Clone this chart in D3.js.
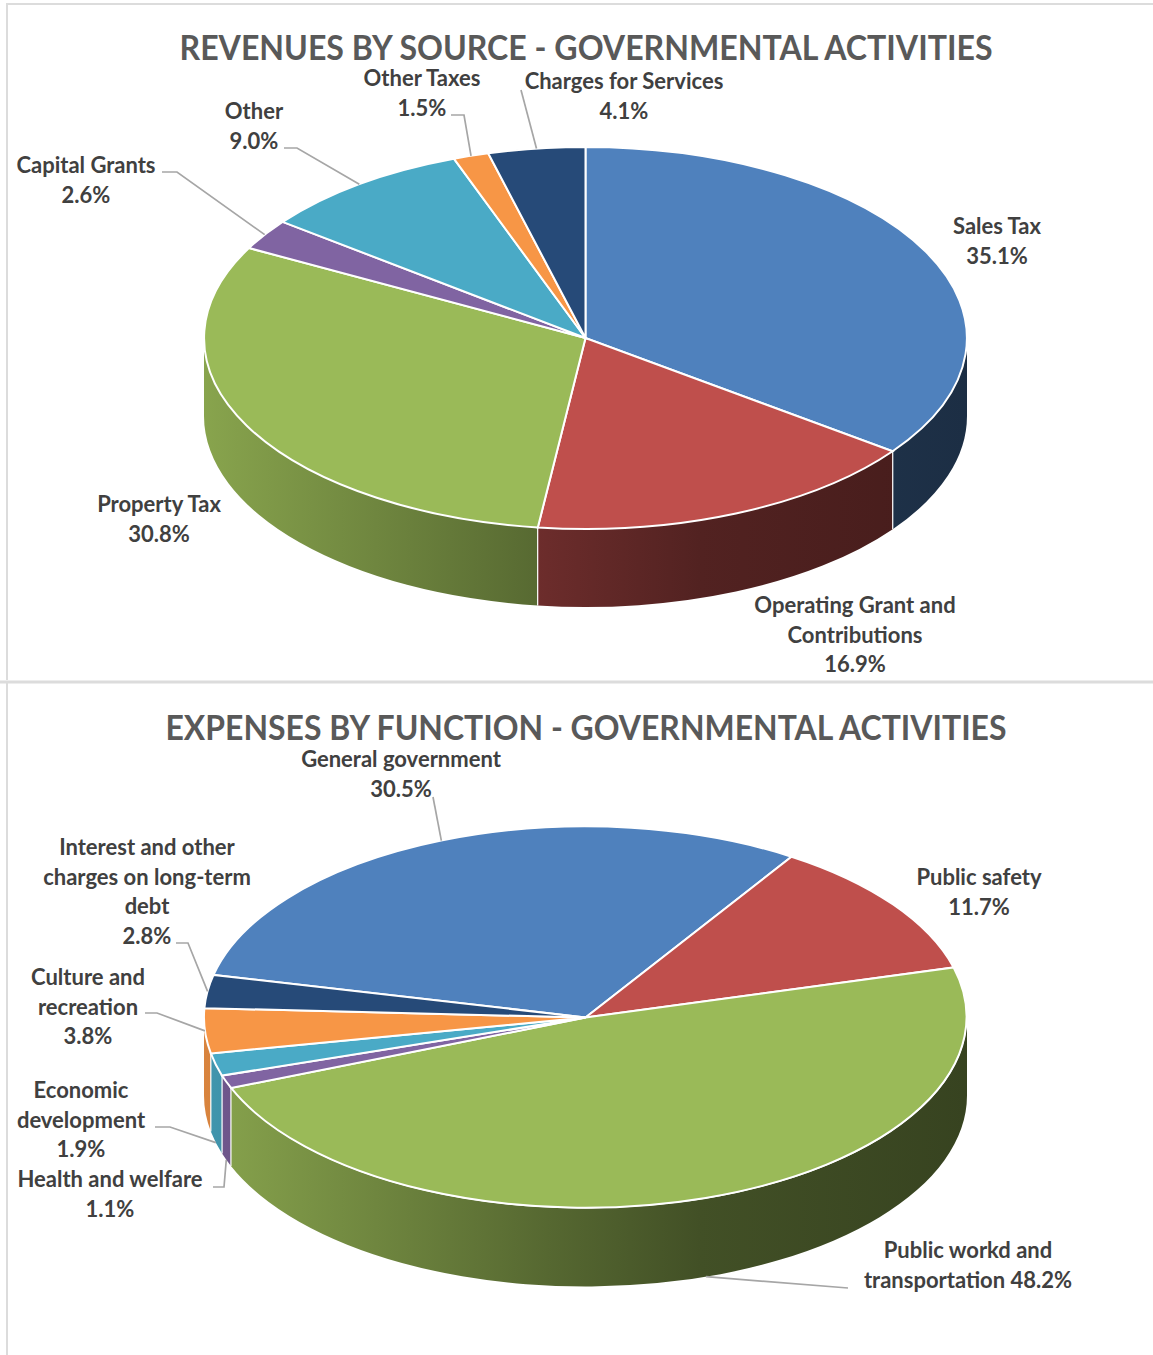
<!DOCTYPE html>
<html>
<head>
<meta charset="utf-8">
<script src="https://cdn.jsdelivr.net/npm/d3@7"></script>
<style>
html, body { margin: 0; padding: 0; background: #fff; }
svg { display: block; }
text { font-family: Lato, "Open Sans", sans-serif; }
</style>
</head>
<body>
<script>
// chart values. "%" in a label line stands for the value
const revenueTitle = "REVENUES BY SOURCE - GOVERNMENTAL ACTIVITIES";
const revenueValues = [35.1, 16.9, 30.8, 2.6, 9.0, 1.5, 4.1];
const revenueLabels = [
    ["Sales Tax", "%"],
    ["Operating Grant and", "Contributions", "%"],
    ["Property Tax", "%"],
    ["Capital Grants", "%"],
    ["Other", "%"],
    ["Other Taxes", "%"],
    ["Charges for Services", "%"]
];

const expenseTitle = "EXPENSES BY FUNCTION - GOVERNMENTAL ACTIVITIES";
const expenseValues = [30.5, 11.7, 48.2, 1.1, 1.9, 3.8, 2.8];
const expenseLabels = [
    ["General government", "%"],
    ["Public safety", "%"],
    ["Public workd and", "transportation %"],
    ["Health and welfare", "%"],
    ["Economic", "development", "%"],
    ["Culture and", "recreation", "%"],
    ["Interest and other", "charges on long-term", "debt", "%"]
];

const sliceColors = ["#4f81bd", "#bf4f4c", "#9aba58", "#8064a2", "#4aaac6", "#f79646", "#264a78"];

// layout of the two panels, separate from the values
const rx = 381.5, ry = 191, depth = 78;
const revenueLayout = {
    cx: 585.5, cy: 338, rotation: 0, titleY: 60, titleWidth: 813,
    text: [[997, 234], [855, 613], [159, 512], [86, 173], [254, 119], [422, 86], [624, 89]],
    leaders: [null, null, null,
        {from: [[162, 172], [177, 172]]},
        {from: [[284, 148], [297, 148]]},
        {from: [[451, 115], [464, 115]]},
        {from: [[521, 90]]}]
};
const expenseLayout = {
    cx: 585.5, cy: 1017.5, rotation: -77.1, titleY: 740, titleWidth: 841,
    text: [[401, 767], [979, 885], [968, 1258], [110, 1187], [81, 1098], [88, 985], [147, 855]],
    leaders: [
        {from: [[433, 797]]},
        null,
        {from: [[848, 1288]], wall: true},
        {from: [[213, 1187], [224, 1187]], wall: true},
        {from: [[155, 1127], [170, 1127]], wall: true},
        {from: [[145, 1013], [157, 1013]]},
        {from: [[176, 943], [188, 943]]}]
};

const svg = d3.select("body").append("svg")
    .attr("width", 1153)
    .attr("height", 1355);

const defs = svg.append("defs");

// panel frames from the screenshot
const frame = svg.append("g").attr("stroke", "#dcdcdc").attr("fill", "none");
frame.append("path").attr("d", "M7,680V4H1153").attr("stroke-width", 2);
frame.append("path").attr("d", "M7,1355V683").attr("stroke-width", 2);
frame.append("path").attr("d", "M0,682H1153").attr("stroke-width", 3);

// wall shading runs dark to the right, one gradient per colour
function addGradient(id, color, cx) {
    const shade = d3.scaleLinear()
        .domain([0, 0.45, 0.65, 1])
        .range([0.88, 0.56, 0.43, 0.36]);
    const c = d3.rgb(color);
    const grad = defs.append("linearGradient")
        .attr("id", id)
        .attr("gradientUnits", "userSpaceOnUse")
        .attr("x1", cx - rx).attr("x2", cx + rx)
        .attr("y1", 0).attr("y2", 0);
    grad.selectAll("stop")
        .data(shade.domain())
        .enter().append("stop")
        .attr("offset", d => d)
        .attr("stop-color", d => d3.rgb(c.r * shade(d), c.g * shade(d), c.b * shade(d)).formatHex());
}
sliceColors.forEach((c, i) => addGradient("wall" + i, c, 585.5));

function drawPie(id, title, values, labels, layout) {
    const g = svg.append("g").attr("id", id);
    const start = layout.rotation * Math.PI / 180;
    const pie = d3.pie().sort(null).startAngle(start).endAngle(start + 2 * Math.PI);
    const arcs = pie(values);
    const arc = d3.arc().innerRadius(0).outerRadius(1);
    const px = a => layout.cx + rx * Math.sin(a);
    const py = a => layout.cy - ry * Math.cos(a);

    // outer wall, only the part facing the viewer
    const front = [Math.PI / 2, 3 * Math.PI / 2];
    arcs.forEach((d, i) => {
        const a0 = Math.max(d.startAngle, front[0]);
        const a1 = Math.min(d.endAngle, front[1]);
        if (a1 <= a0) return;
        const large = a1 - a0 > Math.PI ? 1 : 0;
        g.append("path")
            .attr("fill", `url(#wall${i})`)
            .attr("d", `M${px(a0)},${py(a0)}A${rx},${ry} 0 ${large} 1 ${px(a1)},${py(a1)}` +
                `V${py(a1) + depth}A${rx},${ry} 0 ${large} 0 ${px(a0)},${py(a0) + depth}Z`);
        if (d.startAngle > front[0]) {
            g.append("line")
                .attr("x1", px(a0)).attr("x2", px(a0))
                .attr("y1", py(a0)).attr("y2", py(a0) + depth)
                .attr("stroke", "#fff").attr("stroke-width", 1.2);
        }
    });

    // top face: unit pie squashed to the ellipse
    g.append("g")
        .attr("transform", `translate(${layout.cx},${layout.cy}) scale(${rx},${ry})`)
        .selectAll("path")
        .data(arcs)
        .enter().append("path")
        .attr("d", arc)
        .attr("fill", (d, i) => sliceColors[i])
        .attr("stroke", "#fff")
        .attr("stroke-width", 2)
        .attr("vector-effect", "non-scaling-stroke");

    // leader lines end at the middle of the slice edge
    const lineGen = d3.line();
    arcs.forEach((d, i) => {
        const lead = layout.leaders[i];
        if (!lead) return;
        const mid = (d.startAngle + d.endAngle) / 2;
        const end = [px(mid), py(mid) + (lead.wall ? depth : 0)];
        g.append("path")
            .attr("d", lineGen(lead.from.concat([end])))
            .attr("fill", "none")
            .attr("stroke", "#a6a6a6")
            .attr("stroke-width", 1.7);
    });

    // Lato runs wider than the original face, so the title is squeezed to its width
    g.append("text")
        .attr("x", 586)
        .attr("y", layout.titleY)
        .attr("text-anchor", "middle")
        .attr("font-size", 35)
        .attr("font-weight", 700)
        .attr("fill", "#595959")
        .attr("textLength", layout.titleWidth)
        .attr("lengthAdjust", "spacingAndGlyphs")
        .text(title);

    const fmt = d3.format(".1f");
    labels.forEach((lines, i) => {
        const t = layout.text[i];
        lines.forEach((line, j) => {
            g.append("text")
                .attr("x", t[0])
                .attr("y", t[1] + j * 29.5)
                .attr("text-anchor", "middle")
                .attr("font-size", 22)
                .attr("font-weight", 700)
                .attr("fill", "#404040")
                .text(line.replace("%", fmt(values[i]) + "%"));
        });
    });
}

drawPie("revenues", revenueTitle, revenueValues, revenueLabels, revenueLayout);
drawPie("expenses", expenseTitle, expenseValues, expenseLabels, expenseLayout);
</script>
</body>
</html>
